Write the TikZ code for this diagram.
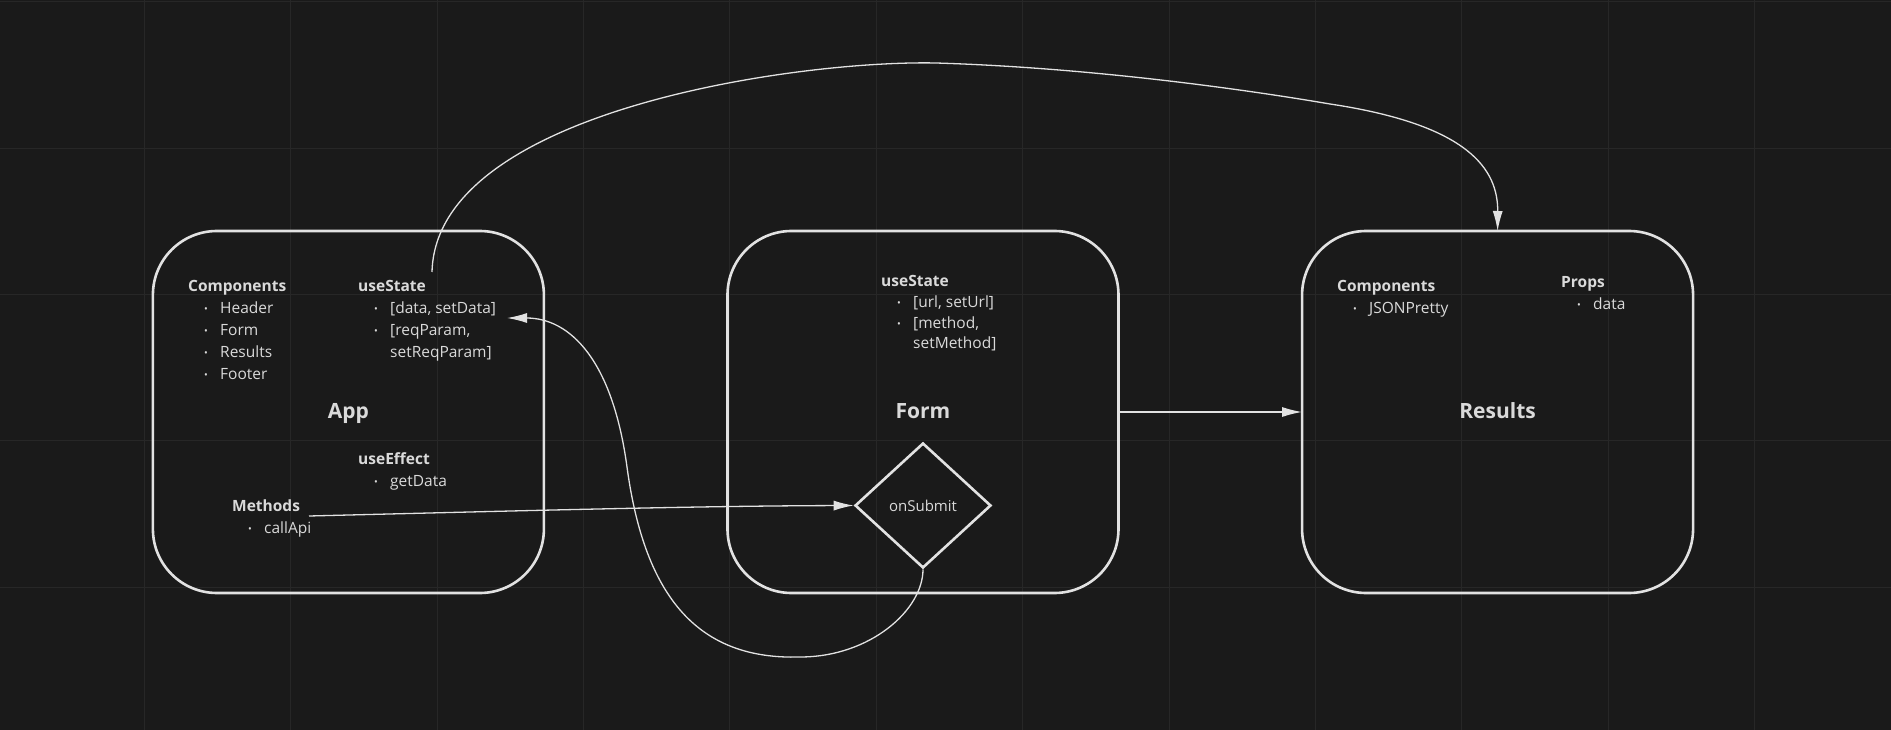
\documentclass[tikz,border=0pt]{standalone}
\usepackage{fontspec}
\setmainfont{Open Sans}
\usepackage{tikz}
\usetikzlibrary{matrix,arrows.meta,shapes.geometric}

\definecolor{bgc}{HTML}{1A1A1A}
\definecolor{gridc}{HTML}{272727}
\definecolor{linec}{HTML}{E2E2E2}
\definecolor{textc}{HTML}{DADADA}

\newcommand{\itm}{\hspace*{16pt}\makebox[16pt][l]{\raisebox{1pt}{\fontsize{10}{10}\selectfont •}}}
\newcommand{\cont}{\hspace*{32pt}}

\tikzset{
	box/.style={draw=linec, line width=2.6pt, rounded corners=64pt, minimum width=391pt, minimum height=362pt, outer sep=0pt, text=textc, font=\fontsize{21}{25}\selectfont\bfseries, text height=17pt, text depth=4pt},
	lst/.style={anchor=base west, inner sep=0pt, text=textc, font=\fontsize{15.5}{22}\selectfont},
	link/.style={draw=linec, line width=1.3pt, -{Latex[length=20pt,width=10pt]}},
	gridline/.style={draw=gridc, line width=1pt}
}

\begin{document}
\begin{tikzpicture}[x=1pt, y=-1pt]
	\useasboundingbox (0,0) rectangle (1891,730);
	\fill[bgc] (0,0) rectangle (1891,730);
	\foreach \gx in {0,...,12} \draw[gridline] ({144.3+146.4*(\gx-1)},0) -- ++(0,730);
	\foreach \gy in {0,...,4} \draw[gridline] (0,{1.7+146.4*\gy}) -- ++(1891,0);

	%\matrix(m)[matrix of nodes, column sep=12em]
	\matrix(m)[matrix of nodes, column sep=181pt, nodes={box}] at (923,412)
	{
		App & Form & Results \\
	};

	\node[lst] (appcomp) at (188,291.5) {\begin{tabular}[t]{@{}l@{}}\textbf{Components}\\ \itm Header\\ \itm Form\\ \itm Results\\ \itm Footer\end{tabular}};
	\node[lst] (appstate) at (358,291.5) {\begin{tabular}[t]{@{}l@{}}\textbf{useState}\\ \itm [data, setData]\\ \itm [reqParam,\\ \cont setReqParam]\end{tabular}};
	\node[lst] (appeffect) at (358,464) {\begin{tabular}[t]{@{}l@{}}\textbf{useEffect}\\ \itm getData\end{tabular}};
	\node[lst] (appmeth) at (232,511.5) {\begin{tabular}[t]{@{}l@{}}\textbf{Methods}\\ \itm callApi\end{tabular}};
	\node[lst, font=\fontsize{15.5}{20.8}\selectfont] (formstate) at (881,286.5) {\begin{tabular}[t]{@{}l@{}}\textbf{useState}\\ \itm [url, setUrl]\\ \itm [method,\\ \cont setMethod]\end{tabular}};
	\node[lst] (rescomp) at (1337,291.5) {\begin{tabular}[t]{@{}l@{}}\textbf{Components}\\ \itm JSONPretty\end{tabular}};
	\node[lst] (resprops) at (1561,287.5) {\begin{tabular}[t]{@{}l@{}}\textbf{Props}\\ \itm data\end{tabular}};

	\node[diamond, draw=linec, line width=2.6pt, inner sep=0pt, minimum width=136pt, minimum height=125pt, text=textc, font=\fontsize{15}{18}\selectfont] (submit) at (923,505.5) {onSubmit};

	\coordinate (appout) at (432,272);
	\coordinate (datain) at (507,318);
	\coordinate (callout) at (309,516);

	\draw[link] (appout) .. controls (436,110) and (800,60) .. (936,63) .. controls (1100,68) and (1260,92) .. (1330,104) .. controls (1470,125) and (1498,170) .. (m-1-3.north);
	\draw[link] (m-1-2.east) -- (m-1-3.west);
	\draw[link] (callout) .. controls (550,510) and (700,506) .. (submit.west);
	\draw[link] (submit.south) .. controls (923,610) and (870,657) .. (800,657) .. controls (700,660) and (645,600) .. (627,467) .. controls (612.5,360) and (570,318) .. (datain);
\end{tikzpicture}
\end{document}
